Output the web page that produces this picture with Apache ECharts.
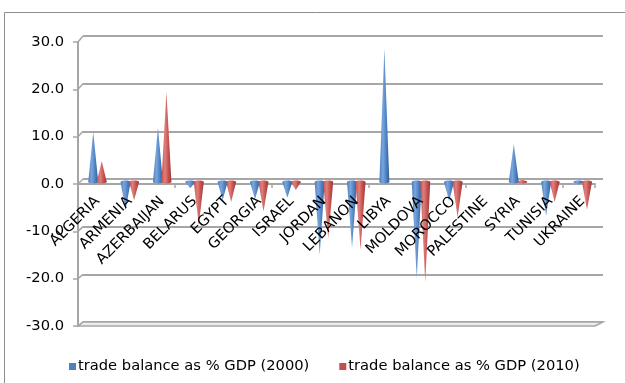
<!DOCTYPE html>
<html>
<head>
<meta charset="utf-8">
<script src="https://cdn.jsdelivr.net/npm/echarts@6/dist/echarts.min.js"></script>
<style>
  html, body { margin: 0; padding: 0; background: #fff; }
  #chart { width: 625px; height: 383px; }
</style>
</head>
<body>
<div id="chart"></div>
<script>
// Trade balance as a share of GDP, by country
const categories = ['ALGERIA', 'ARMENIA', 'AZERBAIJAN', 'BELARUS', 'EGYPT', 'GEORGIA', 'ISRAEL',
  'JORDAN', 'LEBANON', 'LIBYA', 'MOLDOVA', 'MOROCCO', 'PALESTINE', 'SYRIA', 'TUNISIA', 'UKRAINE'];
const balance2000 = [10.5, -5.9, 11.4, -1.3, -3.8, -3.6, -3.3, -15.3, -13.8, 28.0, -20.1, -4.0, null, 7.9, -7.1, -0.6];
const balance2010 = [4.4, -3.8, 18.9, -9.0, -4.2, -6.2, -1.7, -11.8, -14.2, null, -21.0, -7.4, null, 0.4, -4.2, -5.8];
const seriesNames = ['trade balance as % GDP (2000)', 'trade balance as % GDP (2010)'];
const yTicks = [-30, -20, -10, 0, 10, 20, 30];

const FONT = 'DejaVu Sans';
const FS = 14.7;
const GRID_GREY = '#a6a6a6';

// Layout of the pseudo-3D box: back wall, front axes and the plane the cones stand in
const BACK = { left: 83, right: 22, top: 36, bottom: 61 };
const FRONT = { left: 78, right: 30, top: 42, bottom: 57 };
const CONES = { left: 81.3, right: 26.1, top: 38.9, bottom: 57.9 };
const HEIGHT = 383;

const chart = echarts.init(document.getElementById('chart'), null, { renderer: 'canvas' });

function coneRenderer(offset, light, mid, dark) {
  return function (params, api) {
    const v = api.value(1);
    if (v == null || isNaN(v)) return null;
    const base = api.coord([api.value(0), 0]);
    const tip = api.coord([api.value(0), v]);
    const cx = base[0] + offset;
    const hw = 5;
    const fill = new echarts.graphic.LinearGradient(0, 0, 1, 0, [
      { offset: 0, color: mid },
      { offset: 0.35, color: light },
      { offset: 0.7, color: mid },
      { offset: 1, color: dark }
    ]);
    return {
      type: 'group',
      children: [
        {
          type: 'polygon',
          shape: { points: [[cx - hw, base[1]], [cx + hw, base[1]], [cx, tip[1]]] },
          style: { fill: fill }
        },
        {
          type: 'ellipse',
          shape: { cx: cx, cy: base[1], rx: hw, ry: 1.4 },
          style: { fill: fill }
        }
      ]
    };
  };
}

const option = {
  animation: false,
  backgroundColor: '#ffffff',
  textStyle: { fontFamily: FONT },
  grid: [
    Object.assign({ outerBoundsMode: 'none', containLabel: false }, BACK),
    Object.assign({ outerBoundsMode: 'none', containLabel: false }, FRONT),
    Object.assign({ outerBoundsMode: 'none', containLabel: false }, CONES)
  ],
  xAxis: [
    { type: 'category', gridIndex: 0, data: categories, show: false },
    {
      type: 'category', gridIndex: 1, data: categories,
      axisLine: { show: true, onZero: true, lineStyle: { color: GRID_GREY, width: 2 } },
      axisTick: { show: true, length: 4, lineStyle: { color: GRID_GREY, width: 1.5 } },
      axisLabel: { show: false },
      splitLine: { show: false }
    },
    {
      // carries the country names; shifted up to the zero level once the scale is known
      type: 'category', gridIndex: 2, data: categories, z: 10, position: 'bottom', offset: 0,
      axisLine: { show: false, onZero: false },
      axisTick: { show: false },
      axisLabel: {
        show: true, interval: 0, rotate: 45, margin: 17,
        fontFamily: FONT, fontSize: FS, color: '#000'
      },
      splitLine: { show: false }
    }
  ],
  yAxis: [
    {
      type: 'value', gridIndex: 0, min: -30, max: 30, interval: 10,
      axisLine: { show: false }, axisTick: { show: false }, axisLabel: { show: false },
      splitLine: { show: true, lineStyle: { color: GRID_GREY, width: 2 } }
    },
    {
      type: 'value', gridIndex: 1, min: -30, max: 30, interval: 10,
      axisLine: { show: true, lineStyle: { color: GRID_GREY, width: 2 } },
      axisTick: { show: true, length: 5, lineStyle: { color: GRID_GREY, width: 1.5 } },
      axisLabel: {
        show: true, margin: 14, fontFamily: FONT, fontSize: FS, color: '#000',
        formatter: function (v) { return v.toFixed(1); }
      },
      splitLine: { show: false }
    },
    {
      type: 'value', gridIndex: 2, min: -30, max: 30, interval: 10,
      axisLine: { show: false }, axisTick: { show: false }, axisLabel: { show: false },
      splitLine: { show: false }
    }
  ],
  legend: {
    data: seriesNames,
    left: 64, top: 354,
    icon: 'rect', itemWidth: 7, itemHeight: 7, itemGap: 30,
    textStyle: { fontFamily: FONT, fontSize: FS, color: '#000', padding: [0, 0, 0, -3] }
  },
  series: [
    {
      name: seriesNames[0], type: 'custom', xAxisIndex: 2, yAxisIndex: 2, z: 5,
      itemStyle: { color: '#4f81bd' },
      renderItem: coneRenderer(-4.25, '#7aa5dc', '#4a7fc1', '#2f5d99'),
      data: categories.map(function (c, i) { return [i, balance2000[i]]; })
    },
    {
      name: seriesNames[1], type: 'custom', xAxisIndex: 2, yAxisIndex: 2, z: 5,
      itemStyle: { color: '#c0504d' },
      renderItem: coneRenderer(4.25, '#de807d', '#c4504d', '#96393a'),
      data: categories.map(function (c, i) { return [i, balance2010[i]]; })
    }
  ]
};

chart.setOption(option);

// Move the country-name axis up to the zero line of the cone plane
const zeroY = chart.convertToPixel({ yAxisIndex: 2 }, 0);
const coneBottom = HEIGHT - CONES.bottom;
chart.setOption({ xAxis: [{}, {}, { offset: -(coneBottom - zeroY) }] });

// Depth edges joining the front axis to the back wall, plus the floor and the outer frame
const yFront = function (v) { return chart.convertToPixel({ yAxisIndex: 1 }, v); };
const yBack = function (v) { return chart.convertToPixel({ yAxisIndex: 0 }, v); };
const frontRight = 625 - FRONT.right;
const backRight = 625 - BACK.right;
const floorV = yTicks[0];

const elements = [
  {
    type: 'rect', z: -10, silent: true,
    shape: { x: 4.5, y: 12.5, width: 700, height: 500 },
    style: { fill: 'none', stroke: '#8c8c8c', lineWidth: 1 }
  },
  {
    type: 'polygon', z: 1, silent: true,
    shape: { points: [
      [FRONT.left, yFront(floorV)], [frontRight, yFront(floorV)],
      [backRight, yBack(floorV)], [BACK.left, yBack(floorV)]
    ] },
    style: { fill: '#ededed', stroke: GRID_GREY, lineWidth: 1.5 }
  }
];
yTicks.forEach(function (v) {
  elements.push({
    type: 'line', z: 1, silent: true,
    shape: { x1: FRONT.left, y1: yFront(v), x2: BACK.left, y2: yBack(v) },
    style: { stroke: GRID_GREY, lineWidth: 1.5 }
  });
});
chart.setOption({ graphic: { elements: elements } });
</script>
</body>
</html>
